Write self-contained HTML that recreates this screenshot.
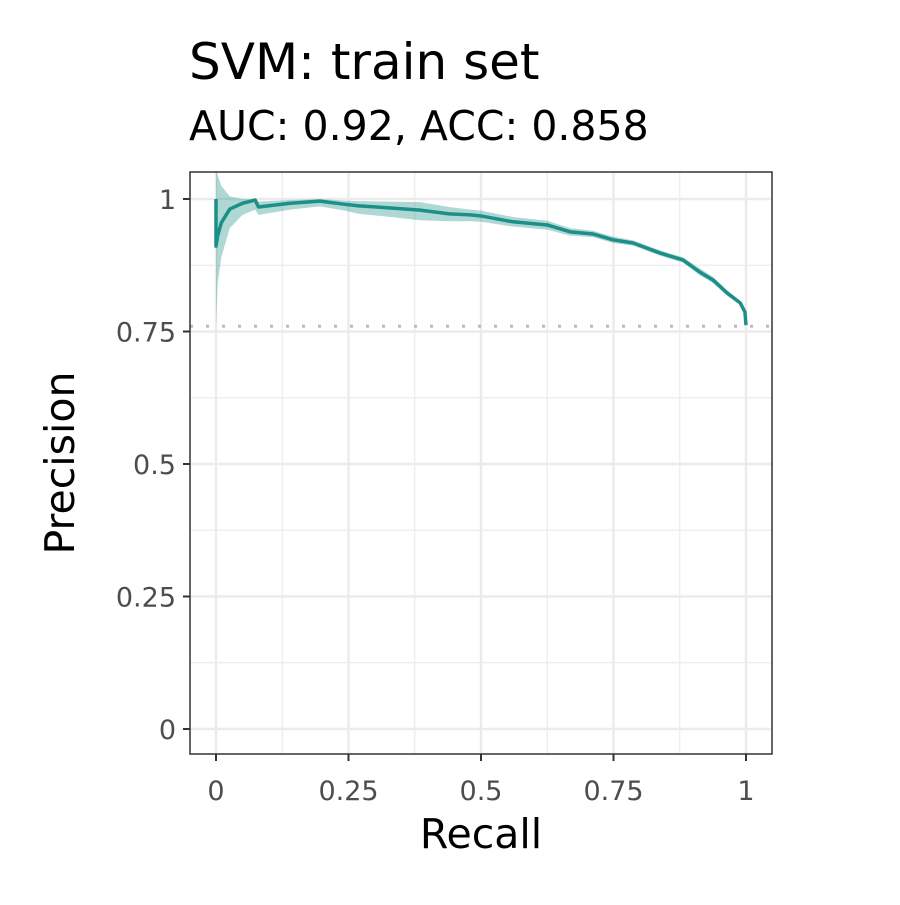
<!DOCTYPE html>
<html><head><meta charset="utf-8"><style>
body{margin:0;background:#fff}
svg text{font-family:"DejaVu Sans","Liberation Sans",sans-serif}
</style></head><body>
<svg id="chart" width="900" height="900" xmlns="http://www.w3.org/2000/svg">
<rect width="900" height="900" fill="#fff"/>
<text x="189" y="79" font-size="50" fill="#000">SVM: train set</text>
<text x="189" y="140" font-size="41" fill="#000">AUC: 0.92, ACC: 0.858</text>
<g id="grid"></g>
<g id="marks"></g>
<rect x="190" y="172" width="582" height="582" fill="none" stroke="#333" stroke-width="1.5"/>
<g id="axes"></g>
<text x="481" y="848" font-size="41" text-anchor="middle" fill="#000">Recall</text>
<text transform="translate(74,463) rotate(-90)" font-size="41" text-anchor="middle" fill="#000">Precision</text>
</svg>
<script>
const recall   =[0.000,0.000,0.003,0.010,0.026,0.050,0.074,0.080,0.140,0.196,0.243,0.270,0.330,0.385,0.440,0.480,0.500,0.560,0.625,0.668,0.711,0.749,0.787,0.838,0.881,0.913,0.938,0.964,0.989,0.998,1.000];
const precision=[1.000,0.911,0.930,0.955,0.981,0.992,0.998,0.985,0.992,0.996,0.990,0.987,0.983,0.979,0.972,0.970,0.968,0.957,0.951,0.938,0.934,0.923,0.917,0.898,0.885,0.862,0.847,0.823,0.804,0.787,0.762];
const upper    =[1.060,1.060,1.045,1.025,1.005,1.000,1.000,0.995,0.998,1.000,0.997,0.996,0.995,0.994,0.985,0.980,0.978,0.966,0.959,0.945,0.940,0.929,0.922,0.903,0.890,0.869,0.853,0.828,0.808,0.790,0.764];
const lower    =[0.760,0.760,0.840,0.890,0.945,0.970,0.980,0.970,0.980,0.986,0.978,0.972,0.966,0.960,0.958,0.958,0.957,0.948,0.942,0.931,0.928,0.917,0.912,0.893,0.880,0.856,0.841,0.818,0.800,0.784,0.760];
const baseline=0.76;
const ticks=[0,0.25,0.5,0.75,1];
const tickLabels=["0","0.25","0.5","0.75","1"];
const NS="http://www.w3.org/2000/svg";
const X=v=>216+530*v, Y=v=>729-530*v;
function mk(parent,tag,attrs){const e=document.createElementNS(NS,tag);for(const k in attrs)e.setAttribute(k,attrs[k]);document.getElementById(parent).appendChild(e);return e;}
for(let i=0;i<ticks.length;i++){
  const t=ticks[i];
  let g=mk('grid','line',{x1:X(t),x2:X(t),y1:172,y2:754,stroke:'#ebebeb','stroke-width':2.4});
  
  
  g=mk('grid','line',{x1:190,x2:772,y1:Y(t),y2:Y(t),stroke:'#ebebeb','stroke-width':2.4});
  
  
  if(i<ticks.length-1){
    const m=t+0.125;
    g=mk('grid','line',{x1:X(m),x2:X(m),y1:172,y2:754,stroke:'#ebebeb','stroke-width':1.2});
    
    
    g=mk('grid','line',{x1:190,x2:772,y1:Y(m),y2:Y(m),stroke:'#ebebeb','stroke-width':1.2});
    
    
  }
}
mk('marks','clipPath',{id:'clip'});mk('clip','rect',{x:190,y:172,width:582,height:582});
let d='M'+recall.map((r,i)=>X(r)+','+Y(upper[i])).join('L');
for(let i=recall.length-1;i>=0;i--)d+='L'+X(recall[i])+','+Y(lower[i]);
let rb=mk('marks','path',{d:d+'Z',fill:'#1b9088','fill-opacity':0.35,'clip-path':'url(#clip)'});


let bl=mk('marks','line',{x1:190,x2:772,y1:Y(baseline),y2:Y(baseline),stroke:'#bbb','stroke-width':3,'stroke-dasharray':'3 13'});


let ln=mk('marks','path',{d:'M'+recall.map((r,i)=>X(r)+','+Y(precision[i])).join('L'),fill:'none',stroke:'#1b8f88','stroke-width':3.5,'stroke-linejoin':'round'});


for(let i=0;i<ticks.length;i++){
  const t=ticks[i];
  let a=mk('axes','line',{x1:X(t),x2:X(t),y1:754,y2:761,stroke:'#333','stroke-width':2});
  
  
  let tx=mk('axes','text',{x:X(t),y:800,'font-size':27,fill:'#4d4d4d','text-anchor':'middle'});
  tx.textContent=tickLabels[i];
  
  
  a=mk('axes','line',{x1:183,x2:190,y1:Y(t),y2:Y(t),stroke:'#333','stroke-width':2});
  
  
  tx=mk('axes','text',{x:176,y:Y(t)+10,'font-size':27,fill:'#4d4d4d','text-anchor':'end'});
  tx.textContent=tickLabels[i];
  
  
}
</script>
</body></html>
